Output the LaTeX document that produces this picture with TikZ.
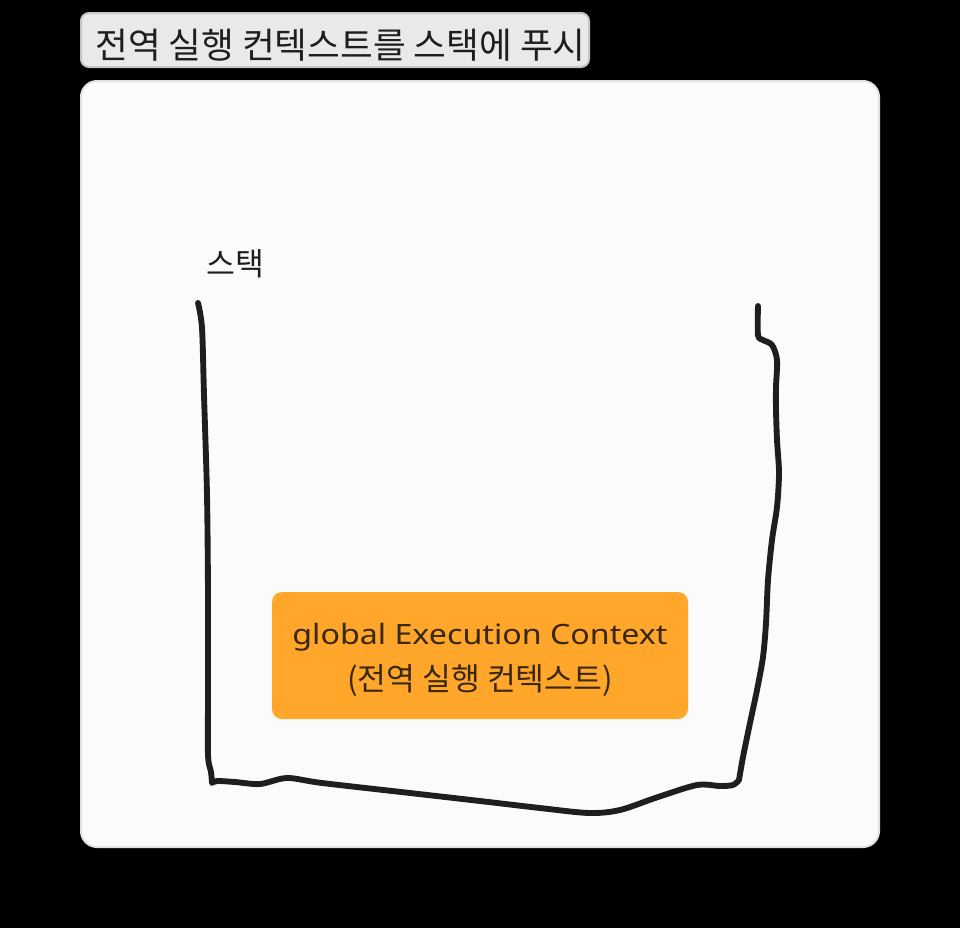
\documentclass[tikz,border=0pt]{standalone}
\usepackage{fontspec}
\setmainfont{Noto Sans CJK KR}
\newfontfamily\latinfont[FakeStretch=1.15]{Noto Sans}
\definecolor{panelfill}{HTML}{FBFBFB}
\definecolor{panelborder}{HTML}{E2E2E2}
\definecolor{titlefill}{HTML}{E9E9E9}
\definecolor{titleborder}{HTML}{C6C6C6}
\definecolor{orangefill}{HTML}{FFA62B}
\definecolor{orangetext}{HTML}{3A280C}
\definecolor{inkline}{HTML}{1E1E1E}
\tikzset{
  stackline/.style={draw=inkline, line width=4.4pt, line cap=round, line join=round},
  orangebox/.style={fill=orangefill, rounded corners=7.5pt, inner sep=0pt, minimum width=312pt, minimum height=95.25pt},
  bigtxt/.style={inner sep=0pt, font=\fontsize{26.7pt}{30pt}\selectfont, text=inkline},
  midtxt/.style={inner sep=0pt, font=\fontsize{23.5pt}{27pt}\selectfont, text=inkline},
  boxtxt/.style={inner sep=0pt, font=\fontsize{23.5pt}{27pt}\selectfont, text=orangetext},
}
\begin{document}
\begin{tikzpicture}[x=0.75pt,y=-0.75pt]
\fill[black] (0,0) rectangle (960,928);
\useasboundingbox (0,0) rectangle (960,928);
% main panel
\draw[draw=panelborder, fill=panelfill, line width=1.5pt, rounded corners=12pt] (81,81) rectangle (879,847);
% title
\begin{scope}
  \path[clip, rounded corners=6pt] (81,13) rectangle (589,67);
  \fill[titlefill] (81,13) rectangle (589,67);
  \node[bigtxt, anchor=base west] (title) at (95,58) {전역 실행 컨텍스트를 스택에 푸시};
\end{scope}
\draw[draw=titleborder, line width=1.5pt, rounded corners=6pt] (81,13) rectangle (589,67);
% stack label
\node[midtxt, anchor=base west] (stacklabel) at (206,275) {스택};
% stack outline
\draw[stackline] plot[smooth, tension=0.5] coordinates {(198,303) (202,328) (204,395) (207,495) (208,595) (208,695) (208,755) (211,772) (212,783)}
  -- plot[smooth, tension=0.5] coordinates {(212,783) (217,781) (235,782) (260,784) (287,778) (322,783) (410,793) (480,801) (540,808) (589,813) (620,810) (658,797) (697,785) (720,786) (733,785) (739,780)}
  -- plot[smooth, tension=0.5] coordinates {(739,780) (743,757) (750,723) (757,690) (763,657) (766,623) (768,580) (772,540) (777,507) (779,473) (777,440) (776,410) (776,387) (777,360) (772,345) (763,340) (758,335) (758,306)};
% orange box
\node[orangebox] (gec) at (480,655.5) {};
\node[boxtxt, anchor=base, font=\latinfont\fontsize{21pt}{25pt}\selectfont] (gecline1) at (480,644) {global Execution Context};
\node[boxtxt, anchor=base] (gecline2) at (480,690) {(전역 실행 컨텍스트)};
\end{tikzpicture}
\end{document}
